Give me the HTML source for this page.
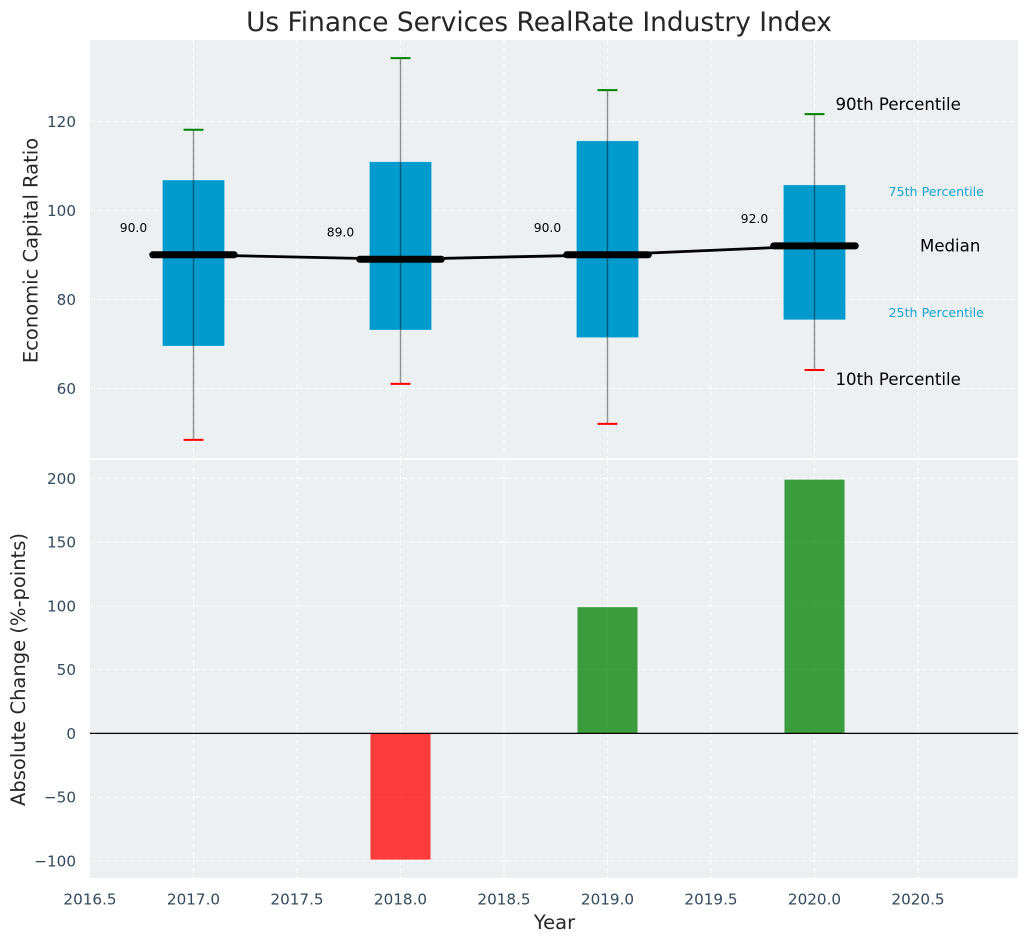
<!DOCTYPE html>
<html>
<head>
<meta charset="utf-8">
<title>Us Finance Services RealRate Industry Index</title>
<style>
html,body{margin:0;padding:0;background:#fff;}
svg{display:block;font-family:"DejaVu Sans","Liberation Sans",sans-serif;}
</style>
</head>
<body>
<svg id="chart" xmlns="http://www.w3.org/2000/svg" width="1029" height="942" viewBox="0 0 1029 942">
  <text x="539" y="31" text-anchor="middle" font-size="26.4" fill="#262626">Us Finance Services RealRate Industry Index</text>
  <rect x="90" y="40" width="928" height="418" fill="#ecf0f1"/>
  <rect x="90" y="460" width="928" height="418" fill="#ecf0f1"/>
  <text transform="translate(37.5,250.5) rotate(-90)" text-anchor="middle" font-size="19.5" fill="#262626">Economic Capital Ratio</text>
  <text transform="translate(25,669.5) rotate(-90)" text-anchor="middle" font-size="19.5" fill="#262626">Absolute Change (%-points)</text>
  <text x="554.5" y="929" text-anchor="middle" font-size="19.5" fill="#262626">Year</text>
  <g id="layer"></g>
</svg>
<script>
const years = [2017, 2018, 2019, 2020];
const p90 = [118.1, 134.2, 127, 121.6];
const p75 = [106.8, 110.9, 115.6, 105.7];
const medians = [90, 89, 90, 92];
const p25 = [69.5, 73.1, 71.4, 75.4];
const p10 = [48.4, 61, 52, 64.1];
const changes = [0, -99, 99, 199];
const xTicks = [2016.5, 2017, 2017.5, 2018, 2018.5, 2019, 2019.5, 2020, 2020.5];
const ratioTicks = [60, 80, 100, 120];
const changeTicks = [-100, -50, 0, 50, 100, 150, 200];

const NS = 'http://www.w3.org/2000/svg';
const layer = document.getElementById('layer');
const xS = v => 90 + (v - 2016.5) * 207;
const yR = v => 210.3 + (100 - v) * 4.45;
const yC = v => 733.4 - v * 1.275;

function mk(tag, attrs, txt) {
  const e = document.createElementNS(NS, tag);
  for (const k in attrs) e.setAttribute(k, attrs[k]);
  if (txt !== undefined) e.textContent = txt;
  layer.appendChild(e);
  return e;
}
const fmt = v => String(v).replace('-', '\u2212');
const GRID = {stroke: '#ffffff', 'stroke-width': 1.1, 'stroke-dasharray': '5 3', 'stroke-opacity': 0.85};

// grid lines
xTicks.forEach(t => {
  if (t > 2016.5) {
    const g1 = mk('line', Object.assign({x1: xS(t), x2: xS(t), y1: 40, y2: 458}, GRID));
    
    
    const g2 = mk('line', Object.assign({x1: xS(t), x2: xS(t), y1: 460, y2: 878}, GRID));
    
    
  }
  const lab = mk('text', {x: xS(t), y: 904.5, 'text-anchor': 'middle', 'font-size': 15.2, fill: '#34495e'}, t.toFixed(1));
  
  
});
ratioTicks.forEach(t => {
  const g = mk('line', Object.assign({x1: 90, x2: 1018, y1: yR(t), y2: yR(t)}, GRID));
  
  
  const lab = mk('text', {x: 76, y: yR(t) + 5.5, 'text-anchor': 'end', 'font-size': 15.2, fill: '#34495e'}, fmt(t));
  
  
});
changeTicks.forEach(t => {
  const g = mk('line', Object.assign({x1: 90, x2: 1018, y1: yC(t), y2: yC(t)}, GRID));
  
  
  const lab = mk('text', {x: 76, y: yC(t) + 5.5, 'text-anchor': 'end', 'font-size': 15.2, fill: '#34495e'}, fmt(t));
  
  
});

// boxes
years.forEach((yr, i) => {
  const box = mk('rect', {x: xS(yr - 0.15), width: xS(yr + 0.15) - xS(yr - 0.15), y: yR(p75[i]), height: yR(p25[i]) - yR(p75[i]), fill: '#009acd', stroke: '#ffffff', 'stroke-opacity': 0.4, 'stroke-width': 0.7});
  
  
});

// median trend line
const trend = mk('polyline', {points: years.map((yr, i) => xS(yr) + ',' + yR(medians[i])).join(' '), fill: 'none', stroke: '#000000', 'stroke-width': 2.8});



years.forEach((yr, i) => {
  const w = mk('line', {x1: xS(yr), x2: xS(yr), y1: yR(p90[i]), y2: yR(p10[i]), stroke: '#000000', 'stroke-opacity': 0.42, 'stroke-width': 1.4});
  
  
  const hi = mk('line', {x1: xS(yr - 0.048), x2: xS(yr + 0.048), y1: yR(p90[i]), y2: yR(p90[i]), stroke: '#008000', 'stroke-width': 2});
  
  
  const lo = mk('line', {x1: xS(yr - 0.048), x2: xS(yr + 0.048), y1: yR(p10[i]), y2: yR(p10[i]), stroke: '#ff0000', 'stroke-width': 2});
  
  
  const m = mk('line', {x1: xS(yr - 0.197), x2: xS(yr + 0.197), y1: yR(medians[i]), y2: yR(medians[i]), stroke: '#000000', 'stroke-width': 7, 'stroke-linecap': 'round'});
  
  
  const lab = mk('text', {x: xS(yr - 0.29), y: yR(medians[i] + 6) + 4, 'text-anchor': 'middle', 'font-size': 12.3, fill: '#000000'}, medians[i].toFixed(1));
  
  
});

// annotations on the last box
const last = years.length - 1;
const ax = xS(years[last]);
const a90 = mk('text', {x: ax + 21, y: yR(p90[last]) - 4, 'font-size': 16.6, fill: '#000000'}, '90th Percentile');


const a75 = mk('text', {x: ax + 74, y: yR(p75[last]) + 11, 'font-size': 12.65, fill: '#16a3d3'}, '75th Percentile');


const aMed = mk('text', {x: ax + 105.5, y: yR(medians[last]) + 5.5, 'font-size': 16.6, fill: '#000000'}, 'Median');


const a25 = mk('text', {x: ax + 74, y: yR(p25[last]) - 3, 'font-size': 12.65, fill: '#16a3d3'}, '25th Percentile');


const a10 = mk('text', {x: ax + 21, y: yR(p10[last]) + 15, 'font-size': 16.6, fill: '#000000'}, '10th Percentile');



// change bars
years.forEach((yr, i) => {
  if (changes[i] === 0) return;
  const top = Math.min(yC(changes[i]), yC(0));
  const bar = mk('rect', {x: xS(yr - 0.145), width: xS(yr + 0.145) - xS(yr - 0.145), y: top, height: Math.abs(yC(changes[i]) - yC(0)), fill: changes[i] > 0 ? '#008000' : '#ff0000', 'fill-opacity': 0.75});
  
  
});
const zero = mk('line', {x1: 90, x2: 1018, y1: yC(0), y2: yC(0), stroke: '#000000', 'stroke-width': 1.2});


</script>
</body>
</html>
